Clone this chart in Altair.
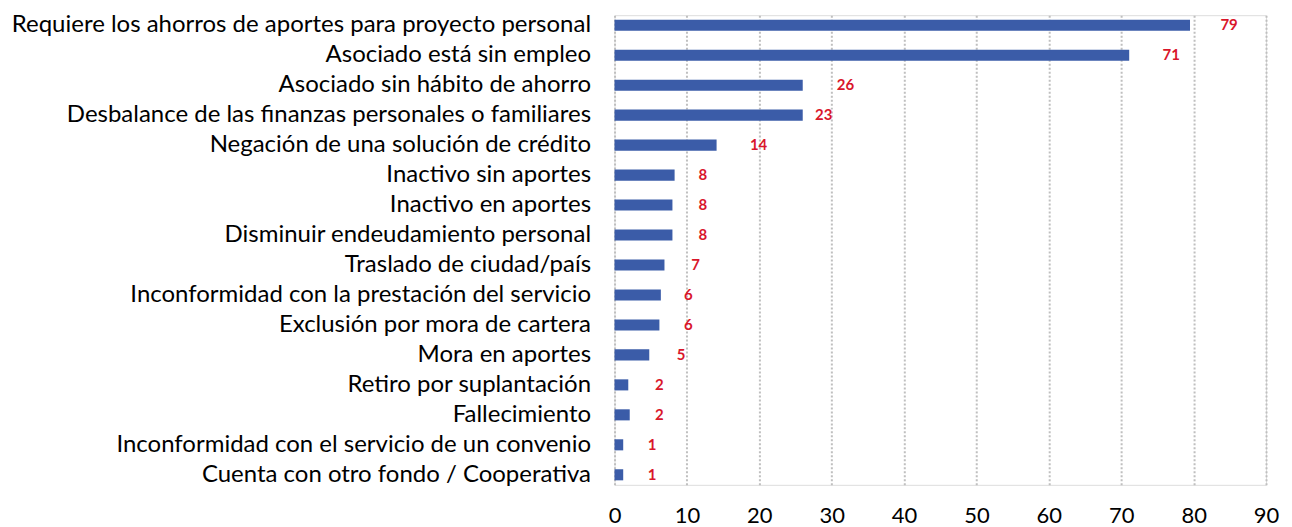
import altair as alt
import pandas as pd

categories = [
    "Requiere los ahorros de aportes para proyecto personal",
    "Asociado está sin empleo\u00a0",
    "Asociado sin hábito de ahorro",
    "Desbalance de las finanzas personales o familiares",
    "Negación de una solución de crédito",
    "Inactivo sin aportes",
    "Inactivo en aportes",
    "Disminuir endeudamiento personal",
    "Traslado de ciudad/país",
    "Inconformidad con la prestación del servicio",
    "Exclusión por mora de cartera",
    "Mora en aportes",
    "Retiro por suplantación",
    "Fallecimiento",
    "Inconformidad con el servicio de un convenio",
    "Cuenta con otro fondo / Cooperativa",
]
bar_values = [79.5, 71.1, 26.0, 26.0, 14.1, 8.3, 8.0, 8.0, 6.9, 6.4, 6.2, 4.8, 1.9, 2.1, 1.2, 1.2]
label_values = [79, 71, 26, 23, 14, 8, 8, 8, 7, 6, 6, 5, 2, 2, 1, 1]

df = pd.DataFrame({"cat": categories, "val": bar_values, "lab": label_values})

FONT = "Lato"

y_enc = alt.Y("cat:N", sort=None, title=None,
              scale=alt.Scale(paddingInner=0.63, paddingOuter=0.15),
              axis=alt.Axis(labelFont=FONT, labelFontSize=24, labelColor="#000000",
                            labelLimit=800, labelPadding=24, ticks=False, domain=False,
                            grid=False))

bars = alt.Chart(df).mark_bar(color="#3b5ca8").encode(
    x=alt.X("val:Q", title=None,
            scale=alt.Scale(domain=[0, 90], nice=False),
            axis=alt.Axis(values=list(range(0, 100, 10)), labelFont=FONT, labelFontSize=22,
                          labelColor="#000000", labelPadding=21, ticks=False, domain=False,
                          labelFlush=False, labelOverlap=False,
                          grid=True, gridColor="#bfbfbf", gridDash=[2, 2], gridWidth=2)),
    y=y_enc,
)

labels = alt.Chart(df).transform_calculate(
    lx="datum.lab + (datum.lab >= 10 ? 5.9 : 4.2)"
).mark_text(font=FONT, fontSize=15, fontWeight="bold", color="#d9162b",
            align="center", baseline="middle").encode(
    x=alt.X("lx:Q"),
    y=alt.Y("cat:N", sort=None),
    text=alt.Text("lab:Q"),
)

chart = alt.layer(bars, labels).properties(
    width=652, height=470, padding={"left": 3, "top": 4, "right": 5, "bottom": 0}
).configure_view(stroke=None).configure(background="#ffffff")

chart.save("out.html", embed_options={"renderer": "svg", "actions": False})
